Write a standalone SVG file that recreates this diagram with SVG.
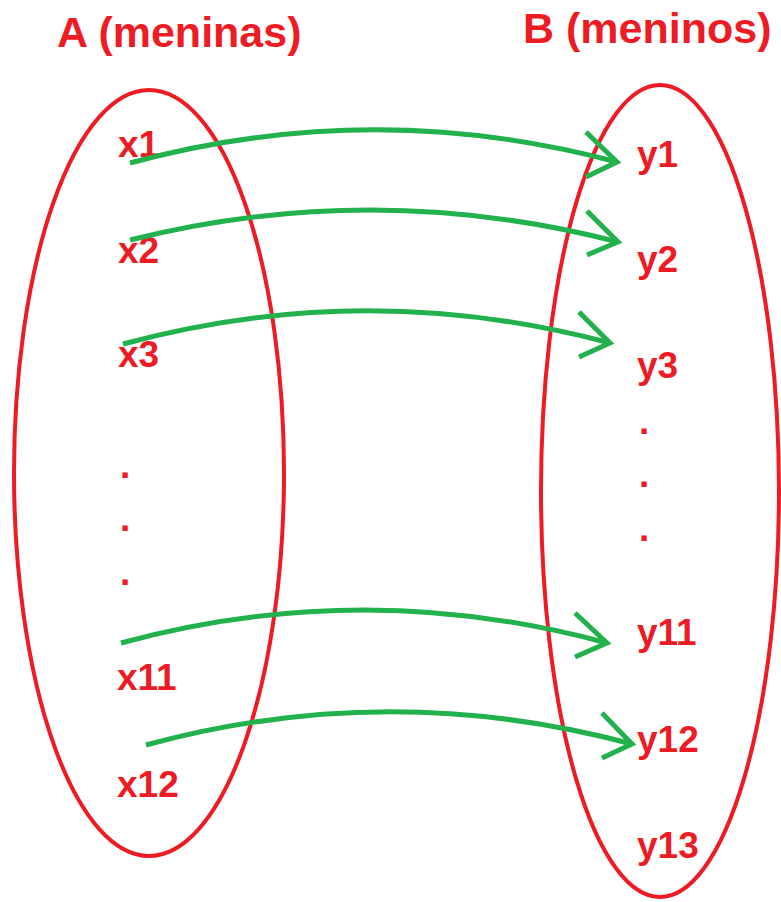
<svg xmlns="http://www.w3.org/2000/svg" width="781" height="902" viewBox="0 0 781 902">
<style>
.lbl{font-family:"Liberation Sans",Arial,sans-serif;font-weight:bold;fill:#ed1c24;font-size:37px}
.ttl{font-family:"Liberation Sans",Arial,sans-serif;font-weight:bold;fill:#ed1c24;font-size:43px}
.set{fill:none;stroke:#ed1c24;stroke-width:4}
.arr{fill:none;stroke:#22b14c;stroke-width:5;stroke-linecap:butt;stroke-linejoin:miter}
</style>
<rect width="781" height="902" fill="#fff"/>
<g id="setA">
<ellipse class="set" cx="149" cy="473" rx="135" ry="383"/>
<text class="ttl" x="57" y="47">A (meninas)</text>
</g>
<g id="setB">
<ellipse class="set" cx="660" cy="491" rx="119" ry="406"/>
<text class="ttl" x="523" y="43">B (meninos)</text>
</g>
<g id="x1"><text class="lbl" x="118" y="157">x1</text></g>
<g id="x2"><text class="lbl" x="118" y="263">x2</text></g>
<g id="x3"><text class="lbl" x="118" y="367">x3</text></g>
<g id="dotsA">
<text class="lbl" x="120" y="478">.</text>
<text class="lbl" x="120" y="531">.</text>
<text class="lbl" x="120" y="585">.</text>
</g>
<g id="x11"><text class="lbl" x="117" y="690">x11</text></g>
<g id="x12"><text class="lbl" x="117" y="797">x12</text></g>
<g id="y1"><text class="lbl" x="637" y="167">y1</text></g>
<g id="y2"><text class="lbl" x="637" y="272">y2</text></g>
<g id="y3"><text class="lbl" x="637" y="378">y3</text></g>
<g id="dotsB">
<text class="lbl" x="639" y="434">.</text>
<text class="lbl" x="639" y="487">.</text>
<text class="lbl" x="639" y="541">.</text>
</g>
<g id="y11"><text class="lbl" x="637" y="645">y11</text></g>
<g id="y12"><text class="lbl" x="637" y="752">y12</text></g>
<g id="y13"><text class="lbl" x="637" y="858">y13</text></g>
<g id="connectors">
<path class="arr" d="M130,163 Q374,97 617,162"/>
<polyline class="arr" points="586,132 617,162 586,177"/>
<path class="arr" d="M130,240 Q374,179 618,242"/>
<polyline class="arr" points="587,211 618,242 587,255"/>
<path class="arr" d="M123,344 Q366,278 610,343"/>
<polyline class="arr" points="579,312 610,343 579,357"/>
<path class="arr" d="M121,643 Q364,577 607,643"/>
<polyline class="arr" points="575,613 607,643 575,657"/>
<path class="arr" d="M146,745 Q389,679 632,744"/>
<polyline class="arr" points="602,713 632,744 602,758"/>
</g>
</svg>
